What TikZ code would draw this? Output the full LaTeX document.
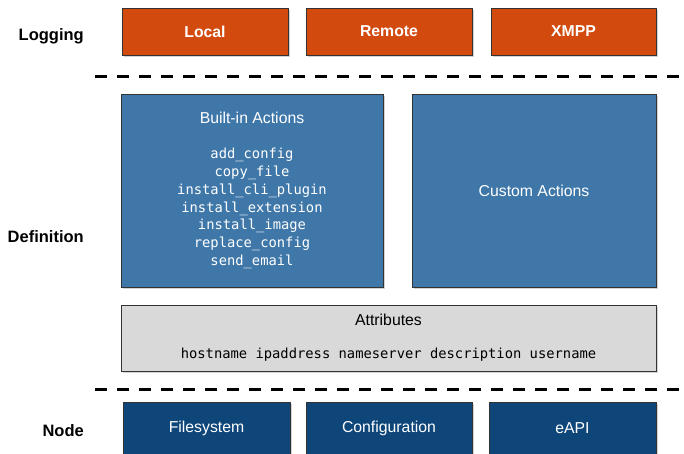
\documentclass[tikz,border=0pt]{standalone}
\usepackage{fontspec}
\setmainfont{Liberation Sans}
\newfontfamily\monof{DejaVu Sans Mono}
\usetikzlibrary{shadows}
\definecolor{logorange}{HTML}{D24A0E}
\definecolor{defblue}{HTML}{3F77A9}
\definecolor{nodeblue}{HTML}{0F467A}
\definecolor{attrgrey}{HTML}{D9D9D9}
\definecolor{edgecol}{HTML}{333333}
\begin{document}
\begin{tikzpicture}[x=1pt,y=-1pt,
  box/.style={draw=edgecol, line width=1pt, inner sep=0pt,
    drop shadow={shadow xshift=1.5pt, shadow yshift=-1.5pt, opacity=0.35}},
  logbox/.style={box, fill=logorange, text=white, minimum height=47pt,
    font=\bfseries\fontsize{15.8}{18}\selectfont},
  defbox/.style={box, fill=defblue, text=white, minimum height=193pt},
  nodebox/.style={box, fill=nodeblue, text=white, minimum width=167pt, minimum height=52pt,
    font=\fontsize{15.8}{18}\selectfont},
  layerlabel/.style={anchor=east, inner sep=0pt, font=\bfseries\fontsize{16.5}{18}\selectfont},
  sep/.style={line width=3pt, dash pattern=on 12pt off 10pt}]
\useasboundingbox (0,0) rectangle (684,453);

% Logging
\node[layerlabel] (lbllog) at (84,36) {Logging};
\node[logbox, minimum width=166pt] (local) at (205,31.5) {Local};
\node[logbox, minimum width=166pt] (remote) at (389,31.5) {Remote};
\node[logbox, minimum width=165pt] (xmpp) at (573.5,31.5) {XMPP};

\coordinate (s1a) at (95,76);
\coordinate (s1b) at (684,76);
\draw[sep] (s1a) -- (s1b);

% Definition
\node[layerlabel] (lbldef) at (84,237) {Definition};
\node[defbox, minimum width=262pt, align=center,
  font=\monof\fontsize{13.8}{17.8}\selectfont] (builtin) at (252,190.5)
  {{\rmfamily\fontsize{15.8}{18}\selectfont Built-in Actions}\\[17pt]
   add\_config\\ copy\_file\\ install\_cli\_plugin\\ install\_extension\\
   install\_image\\ replace\_config\\ send\_email};
\node[defbox, minimum width=244pt, font=\fontsize{15.8}{18}\selectfont] (custom) at (534,190.5) {Custom Actions};

\node[box, fill=attrgrey, minimum width=535pt, minimum height=66pt, align=center,
  font=\monof\fontsize{13.8}{17.8}\selectfont] (attrs) at (388.5,338)
  {{\rmfamily\fontsize{15.8}{18}\selectfont Attributes}\\[15pt]
   hostname ipaddress nameserver description username};

\coordinate (s2a) at (95,389);
\coordinate (s2b) at (684,389);
\draw[sep] (s2a) -- (s2b);

% Node
\node[layerlabel] (lblnode) at (84,431) {Node};
\node[nodebox] (fs) at (206.5,428) {Filesystem};
\node[nodebox, minimum width=166pt] (conf) at (389,428) {Configuration};
\node[nodebox] (eapi) at (572.5,428) {eAPI};
\end{tikzpicture}
\end{document}
